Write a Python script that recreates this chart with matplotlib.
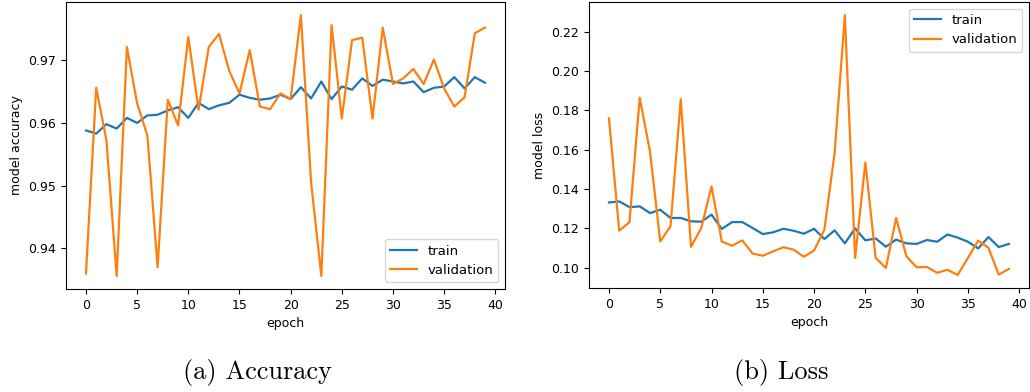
import matplotlib
matplotlib.use("Agg")
import matplotlib.pyplot as plt

epochs = list(range(40))

acc_train = [0.9588, 0.9583, 0.9598, 0.9591, 0.9608, 0.9600, 0.9612, 0.9613, 0.9620, 0.9625,
             0.9608, 0.9632, 0.9622, 0.9628, 0.9632, 0.9645, 0.9640, 0.9637, 0.9639, 0.9645,
             0.9638, 0.9657, 0.9639, 0.9666, 0.9638, 0.9658, 0.9653, 0.9671, 0.9659, 0.9669,
             0.9666, 0.9663, 0.9666, 0.9649, 0.9656, 0.9658, 0.9673, 0.9655, 0.9673, 0.9664]
acc_val = [0.9360, 0.9656, 0.9572, 0.9356, 0.9721, 0.9631, 0.9580, 0.9370, 0.9637, 0.9596,
           0.9737, 0.9621, 0.9721, 0.9742, 0.9683, 0.9647, 0.9716, 0.9626, 0.9622, 0.9647,
           0.9638, 0.9772, 0.9505, 0.9356, 0.9756, 0.9607, 0.9732, 0.9736, 0.9607, 0.9752,
           0.9662, 0.9671, 0.9686, 0.9662, 0.9701, 0.9655, 0.9626, 0.9641, 0.9743, 0.9752]

loss_train = [0.1332, 0.1337, 0.1308, 0.1312, 0.1278, 0.1295, 0.1253, 0.1253, 0.1236, 0.1234,
              0.1270, 0.1197, 0.1232, 0.1232, 0.1202, 0.1171, 0.1180, 0.1198, 0.1188, 0.1173,
              0.1198, 0.1146, 0.1190, 0.1124, 0.1200, 0.1139, 0.1149, 0.1107, 0.1143, 0.1124,
              0.1121, 0.1141, 0.1132, 0.1169, 0.1153, 0.1132, 0.1098, 0.1156, 0.1105, 0.1121]
loss_val = [0.1760, 0.1188, 0.1232, 0.1865, 0.1591, 0.1134, 0.1210, 0.1857, 0.1106, 0.1202,
            0.1413, 0.1133, 0.1112, 0.1139, 0.1072, 0.1061, 0.1083, 0.1104, 0.1092, 0.1056,
            0.1088, 0.1193, 0.1583, 0.2285, 0.1050, 0.1535, 0.1050, 0.0999, 0.1253, 0.1058,
            0.1002, 0.1004, 0.0974, 0.0990, 0.0963, 0.1050, 0.1138, 0.1101, 0.0965, 0.0994]

plt.rcParams["font.size"] = 9
plt.rcParams["legend.fontsize"] = 9.5
plt.rcParams["lines.linewidth"] = 1.6

fig = plt.figure(figsize=(10.30, 3.92), dpi=100)
ax1 = fig.add_axes([0.0641, 0.2628, 0.4262, 0.7321])
ax2 = fig.add_axes([0.5718, 0.2653, 0.4272, 0.7296])

ax1.plot(epochs, acc_train, label="train")
ax1.plot(epochs, acc_val, label="validation")
ax1.set_ylabel("model accuracy")
ax1.set_xlabel("epoch")
ax1.legend(loc="lower right")

ax2.plot(epochs, loss_train, label="train")
ax2.plot(epochs, loss_val, label="validation")
ax2.set_ylabel("model loss")
ax2.set_xlabel("epoch")
ax2.legend(loc="upper right")

fig.text(0.25, 0.051, "(a) Accuracy", family="cmr10", fontsize=19, ha="center", va="center")
fig.text(0.758, 0.051, "(b) Loss", family="cmr10", fontsize=19, ha="center", va="center")

fig.savefig("out.png", dpi=100)
